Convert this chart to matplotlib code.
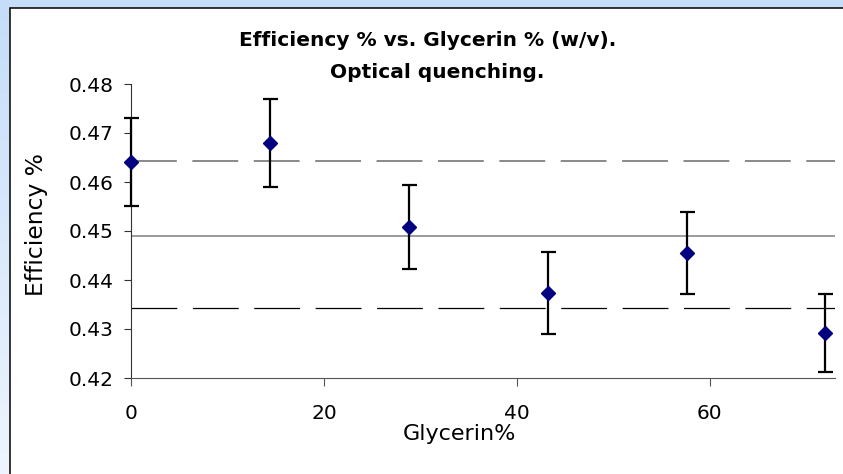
import numpy as np
import matplotlib
matplotlib.use('Agg')
import matplotlib.pyplot as plt
from matplotlib.patches import Rectangle

plt.rcParams['font.family'] = ['DejaVu Sans']
plt.rcParams['lines.scale_dashes'] = False

# --- data ---
glycerin = [0.0, 14.4, 28.8, 43.2, 57.6, 72.0]
efficiency = [0.4641, 0.4679, 0.4508, 0.4374, 0.4455, 0.4292]
err = [0.0089, 0.0090, 0.0085, 0.0084, 0.0083, 0.0080]
mean_line = 0.4490
upper_line = 0.4643
lower_line = 0.4342

W, H = 843, 474
fig = plt.figure(figsize=(W / 100, H / 100), dpi=100)

# light blue gradient backdrop
bg = fig.add_axes([0, 0, 1, 1], zorder=0)
bg.axis('off')
top = np.array([197, 221, 249]) / 255
bottom = np.array([238, 245, 254]) / 255
t = np.linspace(0, 1, 200)[:, None, None]
grad = top + t * (bottom - top)
bg.imshow(np.repeat(grad, 2, axis=1), aspect='auto', extent=[0, 1, 0, 1])
bg.set_xlim(0, 1)
bg.set_ylim(0, 1)

# white chart panel
panel = Rectangle((10 / W, -0.1), 1.2, (H - 8) / H + 0.1, transform=fig.transFigure,
                  facecolor='white', edgecolor='black', linewidth=1.1, zorder=1)
fig.add_artist(panel)

ax = fig.add_axes([131.4 / W, (H - 378) / H, (835 - 131.4) / W, (378 - 84) / H], zorder=2)
ax.set_facecolor('none')

ax.axhline(upper_line, color='#808080', linewidth=1.3, dashes=(33, 11.2), zorder=1)
ax.axhline(mean_line, color='#808080', linewidth=1.1, zorder=1)
ax.axhline(lower_line, color='black', linewidth=0.9, dashes=(33, 11.2), zorder=1)

ax.errorbar(glycerin, efficiency, yerr=err, fmt='none', ecolor='black',
            elinewidth=1.6, capsize=5.4, capthick=1.6, zorder=3, clip_on=False)
ax.plot(glycerin, efficiency, linestyle='none', marker='D', markersize=6.8,
        color='#000080', zorder=4, clip_on=False)

ax.set_xlim(0, 73)
ax.set_ylim(0.42, 0.48)
ax.set_xticks([0, 20, 40, 60])
ax.set_yticks([0.42, 0.43, 0.44, 0.45, 0.46, 0.47, 0.48])
ax.set_yticklabels(['%.2f' % v for v in ax.get_yticks()])

for side in ('top', 'right'):
    ax.spines[side].set_visible(False)
ax.spines['left'].set_color('#333333')
ax.spines['bottom'].set_color('#555555')
ax.tick_params(axis='y', direction='out', length=5, width=0.8, pad=8,
               labelsize=14.5, colors='#333333', labelcolor='black')
ax.tick_params(axis='x', direction='out', length=6, width=0.8, pad=12.5,
               labelsize=14.5, colors='#555555', labelcolor='black')

ax.set_xlabel('Glycerin%', fontsize=16, va='center')
ax.xaxis.set_label_coords((459 - 131.4) / (835 - 131.4), -(434 - 378) / (378 - 84))
ax.set_ylabel('Efficiency %', fontsize=16.8, va='center')
ax.yaxis.set_label_coords((37 - 131.4) / (835 - 131.4), (378 - 225) / (378 - 84))

fig.text(428 / W, 1 - 41 / H, 'Efficiency % vs. Glycerin % (w/v).',
         ha='center', va='center', fontsize=14.5, fontweight='bold', zorder=5)
fig.text(437 / W, 1 - 73 / H, 'Optical quenching.',
         ha='center', va='center', fontsize=14.5, fontweight='bold', zorder=5)

fig.savefig('out.png', dpi=100)
